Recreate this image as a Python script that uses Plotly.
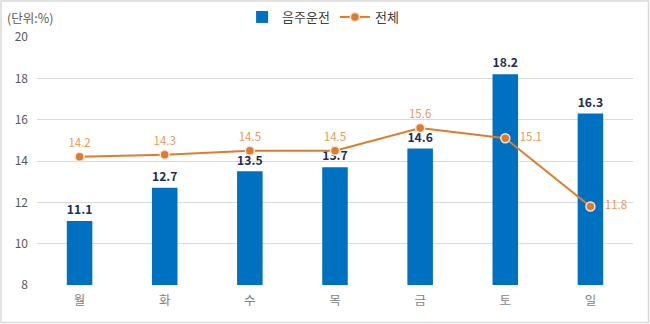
import plotly.graph_objects as go

categories = ["월", "화", "수", "목", "금", "토", "일"]
drunk = [11.1, 12.7, 13.5, 13.7, 14.6, 18.2, 16.3]
total = [14.2, 14.3, 14.5, 14.5, 15.6, 15.1, 11.8]
line_pos = ["top center", "top center", "top center", "top center", "top center", "middle right", "middle right"]

W, H = 650, 324
L, R, T, B = 37, 17, 37, 39
pw, ph = W - L - R, H - T - B
AXIS_MIN = 8

font = "Noto Sans CJK KR, Noto Sans, sans-serif"

fig = go.Figure()
fig.add_trace(go.Bar(
    x=categories, y=[v - AXIS_MIN for v in drunk], base=AXIS_MIN, name="음주운전",
    marker=dict(color="#0070C0", line=dict(width=0)),
    width=0.3,
    text=[f"{v:.1f}" for v in drunk], textposition="outside",
    textfont=dict(size=16, color="#1F2D5A", family=font, weight="bold"),
    cliponaxis=False,
))
fig.add_trace(go.Scatter(
    x=categories, y=total, name="전체", mode="lines+markers+text",
    line=dict(color="#E07B2A", width=2),
    marker=dict(color="#E07B2A", size=9, line=dict(color="#F2E6DC", width=1.5)),
    text=[("   " if p == "middle right" else "") + f"{v:.1f}" for v, p in zip(total, line_pos)],
    textposition=line_pos,
    textfont=dict(size=11.5, color="#E39A5C", family=font),
    cliponaxis=False,
))

fig.update_layout(
    width=W, height=H,
    margin=dict(l=L, r=R, t=T, b=B, autoexpand=False),
    paper_bgcolor="white", plot_bgcolor="white",
    font=dict(family=font, color="#595959", size=11),
    showlegend=True,
    legend=dict(orientation="h", x=0.48, xanchor="center", y=1.0 + 20 / ph, yanchor="middle",
                font=dict(size=13, color="#404040"), itemwidth=30, tracegroupgap=0),
    xaxis=dict(showgrid=False, showline=False, ticks="", ticklabelstandoff=6,
               tickfont=dict(size=12.5, color="#7F7F7F")),
    yaxis=dict(range=[AXIS_MIN, 20], dtick=2, showgrid=True, gridcolor="#D9D9D9", gridwidth=1,
               zeroline=False, showline=False, tickfont=dict(size=12, color="#595959"),
               ticklabelstandoff=8),
    annotations=[dict(text="(단위:%)", xref="paper", yref="paper", x=-(L - 5) / pw, y=1.0 + 20 / ph,
                      xanchor="left", yanchor="middle", showarrow=False,
                      font=dict(size=12.5, color="#595959"))],
    shapes=[dict(type="rect", xref="paper", yref="paper",
                 x0=-(L - 1) / pw, x1=1 + (R - 1.5) / pw, y0=-(B - 1.5) / ph, y1=1 + (T - 1) / ph,
                 line=dict(color="#D9D9D9", width=1.5), fillcolor="rgba(0,0,0,0)", layer="below")],
)

fig.write_html("out.html")
